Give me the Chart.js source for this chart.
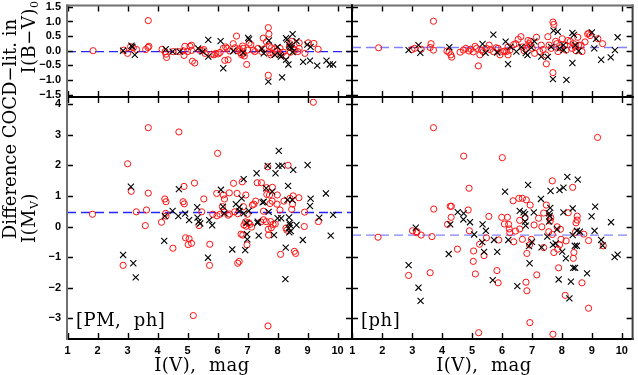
<!DOCTYPE html>
<html><head><meta charset="utf-8">
<script src="https://cdn.jsdelivr.net/npm/chart.js@4.4.0/dist/chart.umd.min.js"></script>
<style>
html,body{margin:0;padding:0;background:#fff;}
#wrap{position:relative;width:638px;height:375px;overflow:hidden;background:#fff;}
canvas{position:absolute;left:0;top:0;}
.t{position:absolute;white-space:pre;color:#000;font-family:'DejaVu Serif',serif;line-height:1;}
.rot{transform:translate(-50%,-50%) rotate(-90deg);}
.ctr{transform:translate(-50%,-50%);}
sub{font-size:0.62em;vertical-align:-0.25em;}
</style></head><body>
<div id="wrap">
<canvas id="c0" width="638" height="375"></canvas>
<canvas id="c1" width="638" height="375"></canvas>
<canvas id="c2" width="638" height="375"></canvas>
<canvas id="c3" width="638" height="375"></canvas>
<div class="t rot" style="left:10px;top:129px;font-size:18px;">Difference COCD−lit. in</div>
<div class="t rot" style="left:30px;top:37px;font-size:18px;letter-spacing:0.5px">I(B−V)<sub>0</sub></div>
<div class="t rot" style="left:30px;top:218px;font-size:18px;letter-spacing:0.5px">I(M<sub>V</sub>)</div>
<div class="t ctr" style="left:202px;top:365px;font-size:18px;letter-spacing:0.5px">I(V),  mag</div>
<div class="t ctr" style="left:484px;top:365px;font-size:18px;letter-spacing:0.5px">I(V),  mag</div>
<div class="t" style="left:76px;top:311px;font-size:18px;letter-spacing:0.5px">[PM,  ph]</div>
<div class="t" style="left:361px;top:311px;font-size:18px;letter-spacing:0.5px">[ph]</div>
</div>
<script>
// ---- data: [I(V) mag, difference] ----
const bvLeftCircles = [[1.85,0.0],[2.87,0.02],[3.0,-0.09],[3.1,0.14],[3.19,0.1],[3.3,0.04],[3.6,0.04],[3.68,0.11],[3.71,0.15],[3.69,1.03],[4.15,0.05],[4.25,-0.03],[4.28,-0.12],[4.3,-0.23],[4.52,-0.03],[4.69,-0.03],[4.85,0.0],[4.88,-0.16],[4.91,0.15],[5.0,-0.03],[5.08,0.15],[5.13,0.01],[5.13,0.19],[5.16,-0.36],[5.24,-0.42],[5.41,0.01],[5.47,0.01],[5.54,0.04],[5.58,-0.09],[5.8,-0.12],[5.88,-0.14],[5.94,-0.09],[6.02,-0.11],[6.08,-0.06],[6.19,0.08],[6.27,0.13],[6.32,0.08],[6.24,-0.33],[6.35,-0.31],[6.41,-0.01],[6.52,0.24],[6.58,0.1],[6.63,0.5],[6.65,0.0],[6.72,0.06],[6.77,-0.07],[6.8,-0.14],[6.83,0.16],[6.85,0.08],[6.85,-0.09],[6.89,-0.18],[6.97,-0.47],[7.0,0.02],[7.05,0.26],[7.11,0.21],[7.19,0.02],[7.24,-0.03],[7.35,0.08],[7.47,-0.03],[7.52,0.43],[7.55,0.06],[7.63,0.3],[7.69,0.79],[7.71,0.57],[7.72,0.16],[7.74,-0.07],[7.77,-0.14],[7.8,0.1],[7.69,-0.84],[7.85,-0.09],[7.91,0.06],[7.97,-0.01],[8.08,0.08],[8.11,-0.14],[8.19,-0.05],[8.28,-0.18],[8.39,0.13],[8.41,0.24],[8.47,0.32],[8.43,-0.05],[8.52,0.06],[8.58,0.02],[8.67,-0.03],[8.72,0.27],[8.72,0.08],[8.91,-0.09],[9.02,0.27],[9.21,0.25],[9.35,0.05]];
const bvLeftCrosses = [[2.85,0.0],[3.13,0.17],[3.16,0.13],[3.24,-0.14],[4.27,0.05],[4.5,-0.03],[4.74,-0.03],[5.35,0.08],[5.5,-0.03],[5.69,0.37],[5.69,-0.2],[6.1,0.33],[6.19,-0.6],[6.52,-0.01],[6.85,-0.07],[7.02,0.44],[7.05,0.39],[7.47,0.06],[7.54,-0.09],[7.71,0.35],[7.69,-1.06],[7.91,-0.14],[8.0,0.13],[8.08,-0.14],[8.11,-0.2],[8.15,-0.91],[8.28,0.43],[8.32,0.38],[8.5,0.57],[8.39,0.19],[8.41,0.13],[8.47,0.1],[8.28,-0.31],[8.36,-0.47],[8.63,0.33],[8.5,-0.05],[8.99,0.21],[9.1,0.13],[8.85,-0.38],[9.08,-0.34],[9.32,-0.51],[9.63,-0.34],[9.74,-0.47],[9.85,-0.47]];
const bvRightCircles = [[1.88,0.10],[2.99,0.04],[3.08,0.08],[3.3,0.05],[3.71,1.01],[3.63,0.24],[3.6,0.11],[3.71,0.02],[4.16,-0.01],[4.23,-0.05],[4.29,-0.14],[4.32,-0.22],[4.6,-0.05],[4.71,0.02],[4.79,0.08],[4.89,-0.01],[4.95,0.05],[5.04,-0.04],[5.10,0.15],[5.15,0.08],[5.21,-0.52],[5.26,-0.14],[5.32,0.02],[5.37,-0.03],[5.48,0.08],[5.57,0.19],[5.6,0.04],[5.71,-0.03],[5.8,0.1],[5.87,0.08],[5.93,-0.14],[6.02,-0.03],[6.09,-0.01],[6.15,-0.03],[6.2,0.13],[6.26,0.02],[6.2,-0.14],[6.39,0.21],[6.46,0.24],[6.54,0.39],[6.63,0.48],[6.68,0.13],[6.74,0.0],[6.81,0.08],[6.87,0.35],[6.9,0.24],[6.95,0.32],[6.95,0.19],[7.01,0.08],[7.09,-0.09],[7.15,0.46],[7.26,-0.03],[7.31,0.19],[7.37,0.04],[7.46,-0.14],[7.48,-0.45],[7.53,0.48],[7.57,0.19],[7.64,0.08],[7.7,0.98],[7.73,0.9],[7.7,-0.75],[7.79,0.32],[7.83,0.24],[7.87,-0.03],[7.94,0.1],[8.01,0.41],[8.09,0.19],[8.14,0.02],[8.2,0.35],[8.28,0.32],[8.34,0.08],[8.39,0.24],[8.44,0.13],[8.47,0.0],[8.53,0.46],[8.56,0.19],[8.64,0.19],[8.67,-0.03],[8.77,0.3],[8.86,0.57],[8.9,0.6],[8.94,0.52],[9.2,0.41],[9.36,0.24]];
const bvRightCrosses = [[2.88,0.02],[3.21,0.19],[3.27,-0.07],[4.24,0.12],[5.35,0.23],[5.45,-0.07],[5.71,0.55],[5.84,-0.06],[6.12,0.31],[6.2,-0.46],[6.28,0.13],[6.48,-0.03],[6.65,0.13],[6.79,-0.08],[6.85,-0.15],[6.98,0.11],[7.08,0.32],[7.31,-0.2],[7.53,-0.21],[7.64,0.13],[7.7,-0.97],[7.72,0.69],[7.86,0.65],[7.92,0.08],[8.05,0.19],[8.06,0.02],[8.15,-1.0],[8.35,-0.42],[8.35,0.61],[8.4,0.54],[8.45,0.19],[8.56,-0.01],[9.0,0.63],[9.08,0.08],[9.14,0.41],[9.31,-0.31],[9.63,-0.23],[9.77,0.02],[9.86,0.46]];
const mvLeftCircles = [[1.83,0.40],[2.85,-1.27],[3.0,2.05],[3.12,1.15],[3.29,0.48],[3.59,0.03],[3.63,0.54],[3.69,3.23],[3.69,1.09],[4.13,0.14],[4.24,0.90],[4.28,0.81],[4.27,0.43],[4.28,0.34],[4.51,-0.71],[4.71,3.09],[4.85,0.81],[4.88,1.31],[4.89,0.74],[4.93,-0.37],[5.02,-0.59],[5.05,-0.40],[5.13,-0.55],[5.19,-2.91],[5.23,1.42],[5.38,0.03],[5.47,0.48],[5.54,0.90],[5.73,-1.27],[5.74,-0.58],[5.84,0.40],[5.98,0.35],[5.97,1.08],[6.0,2.39],[6.08,0.40],[6.16,0.65],[6.19,1.03],[6.22,0.48],[6.23,0.90],[6.35,0.37],[6.39,1.10],[6.4,0.41],[6.53,1.41],[6.57,0.48],[6.65,1.08],[6.67,0.42],[6.67,-1.2],[6.72,-1.14],[6.78,-0.25],[6.82,1.46],[6.84,-0.28],[6.86,0.65],[6.88,0.05],[6.93,0.15],[6.94,1.03],[6.95,0.01],[6.98,-0.60],[6.99,0.40],[7.04,0.12],[7.08,0.07],[7.13,-0.02],[7.16,0.70],[7.21,0.73],[7.27,0.83],[7.32,1.43],[7.46,1.43],[7.44,0.15],[7.53,0.50],[7.53,0.22],[7.62,0.16],[7.64,1.05],[7.63,1.27],[7.67,1.95],[7.68,-3.25],[7.69,-0.09],[7.7,-0.28],[7.73,1.03],[7.75,0.75],[7.77,0.16],[7.79,-0.04],[7.82,0.83],[7.83,1.28],[7.85,0.07],[7.92,0.08],[7.98,0.73],[7.99,1.03],[8.08,0.54],[8.1,-0.91],[8.21,0.83],[8.28,-0.05],[8.31,-0.12],[8.35,2.0],[8.41,0.92],[8.47,0.56],[8.5,0.73],[8.52,1.0],[8.56,-0.81],[8.6,-0.88],[8.71,0.94],[8.9,0.47],[8.89,0.0],[9.19,4.06],[9.36,0.16]];
const mvLeftCrosses = [[2.85,-0.93],[3.11,1.3],[3.19,-1.2],[3.27,-1.66],[4.22,-0.47],[4.24,0.34],[4.5,0.51],[4.69,0.34],[4.71,1.22],[4.92,0.42],[5.05,0.21],[5.32,0.63],[5.33,0.29],[5.37,0.16],[5.42,0.1],[5.68,-1.02],[5.72,0.21],[5.82,0.04],[6.11,1.2],[6.18,0.65],[6.22,0.43],[6.49,-0.75],[6.61,0.73],[6.72,0.63],[6.73,0.51],[6.8,0.92],[6.87,0.43],[6.87,1.55],[6.92,-0.77],[6.97,0.12],[6.98,-0.25],[6.99,-0.42],[7.04,0.51],[7.3,1.74],[7.33,0.12],[7.34,0.16],[7.37,-0.3],[7.5,0.79],[7.54,0.81],[7.62,1.25],[7.67,1.98],[7.7,0.48],[7.82,1.14],[7.88,-0.28],[7.93,1.74],[8.0,0.27],[8.03,1.98],[8.04,2.47],[8.12,0.27],[8.15,1.99],[8.26,-1.72],[8.27,-0.69],[8.33,0.87],[8.35,1.33],[8.37,-0.06],[8.38,0.3],[8.39,-0.19],[8.4,0.12],[8.41,0.05],[8.44,-0.15],[8.49,0.87],[8.52,1.85],[8.63,0.05],[8.84,-0.44],[9.0,2.01],[9.08,0.67],[9.1,0.91],[9.39,0.29],[9.61,1.08],[9.77,-0.3],[9.85,0.38]];
const mvRightCircles = [[1.86,-0.35],[2.88,-1.6],[3.01,-0.14],[3.14,-0.2],[3.16,-0.17],[3.3,-0.28],[3.6,-1.51],[3.66,-0.33],[3.71,3.23],[3.72,0.57],[4.18,0.07],[4.27,0.66],[4.31,0.66],[4.3,0.30],[4.51,-0.74],[4.72,2.30],[4.87,0.54],[4.9,1.25],[4.91,-0.14],[5.04,-1.14],[5.05,-0.8],[5.11,-1.55],[5.22,-3.47],[5.25,-0.58],[5.4,-0.95],[5.48,-0.37],[5.56,0.33],[5.83,-1.44],[5.87,-1.84],[5.89,-0.44],[5.99,0.30],[6.01,2.25],[6.08,0.08],[6.18,0.30],[6.22,0.07],[6.24,-0.08],[6.26,-0.2],[6.37,0.84],[6.39,-0.5],[6.45,-0.15],[6.56,0.92],[6.59,0.2],[6.59,-0.08],[6.68,0.92],[6.68,-0.42],[6.77,0.29],[6.8,-1.82],[6.81,0.87],[6.83,-2.1],[6.83,-0.88],[6.92,-0.6],[6.93,-3.14],[6.94,0.70],[6.98,-0.42],[7.07,0.05],[7.16,-1.58],[7.22,0.27],[7.33,-0.01],[7.39,0.44],[7.39,-0.69],[7.48,0.70],[7.56,-0.17],[7.61,0.18],[7.63,0.29],[7.68,-0.26],[7.68,1.49],[7.7,-3.52],[7.73,-0.85],[7.84,-0.01],[7.86,-0.74],[7.89,-1.35],[7.92,-0.6],[7.95,-0.09],[7.97,-0.42],[8.11,-2.25],[8.14,-0.47],[8.21,0.45],[8.36,1.28],[8.38,-1.04],[8.4,-0.85],[8.45,-0.19],[8.47,0.12],[8.51,0.34],[8.51,0.21],[8.67,-1.84],[8.73,-0.25],[8.89,-0.46],[8.89,-2.67],[9.19,2.91],[9.38,-0.63]];
const mvRightCrosses = [[2.88,-1.26],[3.12,-0.04],[3.21,-2.0],[3.28,-2.43],[4.22,-0.9],[4.27,0.07],[4.52,0.47],[4.71,0.23],[4.72,0.43],[4.93,0.14],[5.07,-0.26],[5.34,-0.51],[5.35,0.07],[5.4,-0.83],[5.46,-0.14],[5.69,-1.75],[5.73,-0.44],[5.84,-0.83],[6.1,1.14],[6.21,-0.44],[6.51,-1.95],[6.59,0.51],[6.72,0.46],[6.77,0.4],[6.77,0.16],[6.79,0.03],[6.87,1.36],[6.9,-0.64],[6.92,-1.2],[7.0,-0.5],[7.06,0.46],[7.3,0.9],[7.32,-0.68],[7.51,-0.33],[7.57,0.43],[7.57,0.16],[7.59,0.35],[7.61,0.61],[7.62,1.16],[7.7,-0.6],[7.79,-0.55],[7.84,-0.09],[7.89,-1.73],[7.92,1.19],[8.01,-0.82],[8.05,1.27],[8.05,0.46],[8.13,-1.04],[8.18,1.62],[8.25,-2.35],[8.3,-1.8],[8.36,0.59],[8.36,-0.28],[8.38,-1.35],[8.43,-0.63],[8.44,-1.35],[8.5,-0.14],[8.5,-0.63],[8.53,1.53],[8.6,-0.17],[8.84,-1.53],[8.99,0.33],[9.09,-0.14],[9.11,0.65],[9.31,-0.44],[9.36,-0.62],[9.64,0.14],[9.76,-1.0],[9.86,-0.92]];
// mean offsets (dashed lines): TL, TR, BL, BR
const meanOffsets = [-0.03, 0.11, 0.46, -0.28];
// axis ranges
const xRangeLeft = [0.98, 10.48];
const xRangeRight = [0.99, 10.36];
const bvRange = [-1.584, 1.551];
const mvRange = [-3.676, 4.232];

const minus = s => String(s).replace('-', '\u2212');

const framePlugin = {
  id: 'frame',
  afterDatasetsDraw(chart) {
    const {ctx, chartArea: a, scales: {x, y}} = chart;
    const o = chart.options.plugins.frame;
    ctx.save();
    ctx.strokeStyle = '#000';
    ctx.lineWidth = 1.4;
    ctx.beginPath();
    const tl = 6;
    x.ticks.forEach(t => {
      const px = Math.round(x.getPixelForValue(t.value)) + 0.5;
      ctx.moveTo(px, a.top); ctx.lineTo(px, a.top + tl);
      ctx.moveTo(px, a.bottom); ctx.lineTo(px, a.bottom - tl);
    });
    y.ticks.forEach(t => {
      const py = Math.round(y.getPixelForValue(t.value)) + 0.5;
      ctx.moveTo(a.left, py); ctx.lineTo(a.left + tl, py);
      ctx.moveTo(a.right, py); ctx.lineTo(a.right - tl, py);
    });
    ctx.stroke();
    ctx.lineWidth = 2;
    const side = (c, x1, y1, x2, y2) => { ctx.strokeStyle = c; ctx.beginPath(); ctx.moveTo(x1, y1); ctx.lineTo(x2, y2); ctx.stroke(); };
    side(o.bottomColor, a.left - 1, a.bottom, a.right + 1, a.bottom);
    side(o.rightColor, a.right, a.top - 1, a.right, a.bottom + 1);
    side(o.topColor, a.left - 1, a.top, a.right + 1, a.top);
    side(o.leftColor, a.left, a.top - 1, a.left, a.bottom + 1);
    ctx.restore();
  }
};

const tickFont = {family: "'Liberation Sans', Arial, sans-serif", size: 11, weight: 'bold'};

function makePanel(id, circles, crosses, mean, box, xr, yr, ystep, showX, showY, lineColor, colors, yFmt) {
  const [L, T, R, B] = box;
  const yW = showY ? L : 0;
  const xH = showX ? 375 - B : 0;
  new Chart(document.getElementById(id), {
    type: 'scatter',
    data: {
      datasets: [
        {data: crosses.map(([x, y]) => ({x, y})), pointStyle: 'crossRot', pointRadius: 4.3,
         borderColor: '#000', backgroundColor: '#000', borderWidth: 1.1},
        {data: circles.map(([x, y]) => ({x, y})), pointStyle: 'circle', pointRadius: 3.1,
         borderColor: '#ff1010', backgroundColor: 'rgba(0,0,0,0)', borderWidth: 1},
        {type: 'line', data: [{x: xr[0], y: mean}, {x: xr[1], y: mean}], borderColor: lineColor,
         borderDash: [9, 5], borderWidth: 1.4, pointRadius: 0, fill: false}
      ]
    },
    options: {
      responsive: false, animation: false, events: [],
      layout: {padding: {left: L - yW, top: T, right: 638 - R, bottom: 375 - B - xH}},
      plugins: {legend: {display: false}, tooltip: {enabled: false}, frame: colors},
      scales: {
        x: {type: 'linear', position: 'bottom', min: xr[0], max: xr[1],
            grid: {display: false, drawTicks: false}, border: {display: false},
            ticks: {display: showX, stepSize: 1, includeBounds: false, autoSkip: false, maxRotation: 0,
                    padding: 5, color: '#000', font: tickFont, callback: v => minus(v)},
            afterFit: s => { s.height = xH; s.paddingLeft = 0; s.paddingRight = 0; s.paddingTop = 0; s.paddingBottom = 0; }},
        y: {type: 'linear', position: 'left', min: yr[0], max: yr[1],
            grid: {display: false, drawTicks: false}, border: {display: false},
            ticks: {display: showY, stepSize: ystep, includeBounds: false, autoSkip: false,
                    padding: 6, color: '#000', font: tickFont, callback: yFmt},
            afterFit: s => { s.width = yW; s.paddingTop = 0; s.paddingBottom = 0; s.paddingLeft = 0; s.paddingRight = 0; }}
      }
    },
    plugins: [framePlugin]
  });
}

const gray = '#707070', blk = '#000';
const fmtBV = v => minus(Number(v).toFixed(1));
const fmtMV = v => minus(Math.round(v));
makePanel('c0', bvLeftCircles, bvLeftCrosses, meanOffsets[0], [67, 2, 352, 97], xRangeLeft, bvRange, 0.5, false, true, '#2424ff',
  {leftColor: gray, topColor: gray, rightColor: blk, bottomColor: blk}, fmtBV);
makePanel('c1', bvRightCircles, bvRightCrosses, meanOffsets[1], [352, 2, 634, 97], xRangeRight, bvRange, 0.5, false, false, '#8282ff',
  {leftColor: blk, topColor: gray, rightColor: '#404040', bottomColor: blk}, fmtBV);
makePanel('c2', mvLeftCircles, mvLeftCrosses, meanOffsets[2], [67, 97, 352, 339], xRangeLeft, mvRange, 1, true, true, '#2424ff',
  {leftColor: gray, topColor: blk, rightColor: blk, bottomColor: blk}, fmtMV);
makePanel('c3', mvRightCircles, mvRightCrosses, meanOffsets[3], [352, 97, 634, 339], xRangeRight, mvRange, 1, true, false, '#8282ff',
  {leftColor: blk, topColor: blk, rightColor: '#404040', bottomColor: blk}, fmtMV);
</script>
</body></html>
